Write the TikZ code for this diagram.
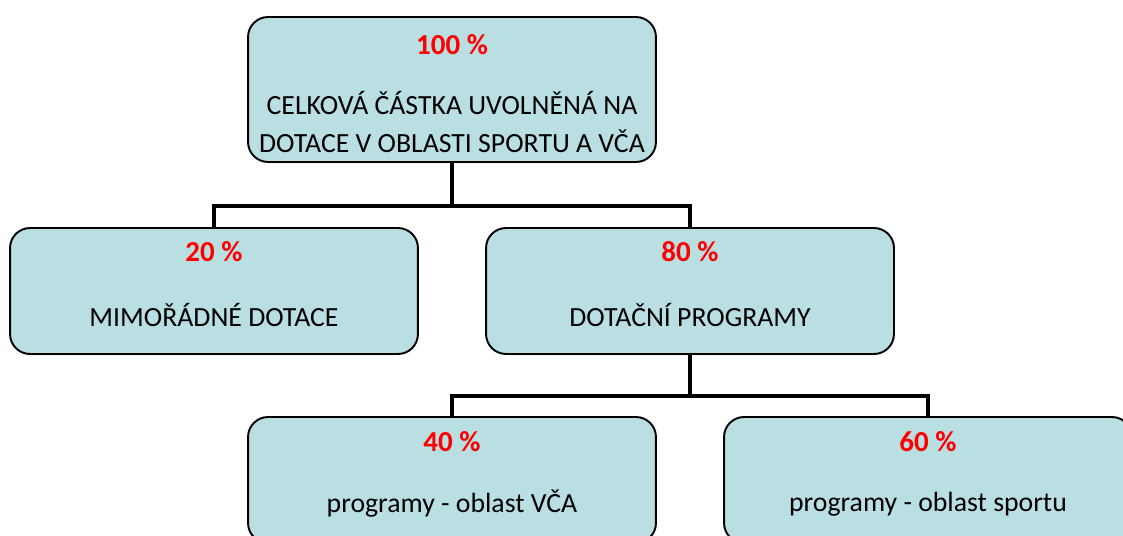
\documentclass[tikz,border=0pt]{standalone}
\usepackage{fontspec}
\setmainfont{Carlito}
\usepackage{xcolor}
\definecolor{BoxTeal}{HTML}{B9DFE3}
\definecolor{PctRed}{HTML}{FF0000}
\usepackage{tikz}
\usetikzlibrary{positioning,calc}

\begin{document}
\begin{tikzpicture}[
  x=0.02cm,y=-0.02cm,
  box/.style={draw=black,line width=1.1pt,rounded corners=0.4cm,fill=BoxTeal,minimum width=8.16cm,minimum height=2.52cm},
  pct/.style={font=\fontsize{16.5}{19}\selectfont\bfseries,text=PctRed},
  txt/.style={font=\fontsize{15.8}{22}\selectfont,align=center},
  link/.style={line width=2.3pt}
]
\useasboundingbox (0,0) rectangle (1123,535);
\clip (0,0) rectangle (1123,535);

\node[box,minimum height=2.9cm] (total) at (452,89.5) {};
\node[box] (extra) at (214,291) {};
\node[box] (progs) at (690,291) {};
\node[box] (vca) at (452,480) {};
\node[box] (sport) at (928,480) {};

\node[pct] (totalpct) at (452,45) {100 \%};
\node[txt] (totaltxt) at (452,122) {CELKOVÁ ČÁSTKA UVOLNĚNÁ NA\\DOTACE V OBLASTI SPORTU A VČA};
\node[pct] (extrapct) at (214,252) {20 \%};
\node[txt] (extratxt) at (214,315) {MIMOŘÁDNÉ DOTACE};
\node[pct] (progspct) at (690,252) {80 \%};
\node[txt] (progstxt) at (690,315) {DOTAČNÍ PROGRAMY};
\node[pct] (vcapct) at (452,442) {40 \%};
\node[txt] (vcatxt) at (452,504) {programy - oblast VČA};
\node[pct] (sportpct) at (928,442) {60 \%};
\node[txt] (sporttxt) at (928,504) {programy - oblast sportu};

% tree lines
\coordinate (split1) at ($(total.south)+(0,43)$);
\coordinate (split2) at ($(progs.south)+(0,41)$);
\draw[link] (total.south) -- (split1) -| (extra.north);
\draw[link] (split1) -| (progs.north);
\draw[link] (progs.south) -- (split2) -| (vca.north);
\draw[link] (split2) -| (sport.north);
\end{tikzpicture}
\end{document}
